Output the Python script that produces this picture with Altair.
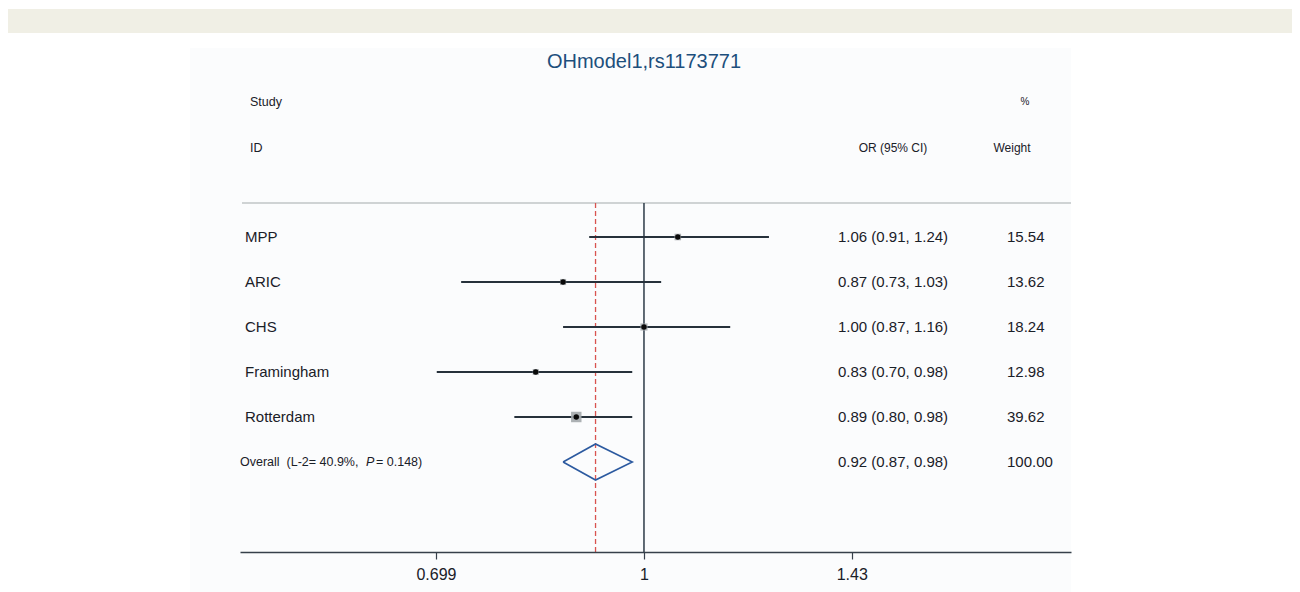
import altair as alt
import pandas as pd

# ---------------- data ----------------
studies = ["MPP", "ARIC", "CHS", "Framingham", "Rotterdam"]
or_est = [1.06, 0.87, 1.00, 0.83, 0.89]
ci_lo = [0.91, 0.73, 0.87, 0.70, 0.80]
ci_hi = [1.24, 1.03, 1.16, 0.98, 0.98]
weights = [15.54, 13.62, 18.24, 12.98, 39.62]

overall_est = 0.92
overall_lo = 0.87
overall_hi = 0.98
overall_weight = 100.00
het_text_a = "Overall\u00a0\u00a0(L-2= 40.9%,\u00a0"
het_text_p = "P"
het_text_b = "\u00a0= 0.148)"

tick_values = [0.699, 1, 1.43]
null_value = [1.0]
title_text = "OHmodel1,rs1173771"

# ---------------- tables ----------------
df = pd.DataFrame({
    "study": studies, "est": or_est, "lo": ci_lo, "hi": ci_hi, "w": weights,
    "row": list(range(len(studies))),
})
df["ci_text"] = [f"{e:.2f} ({l:.2f}, {h:.2f})" for e, l, h in zip(or_est, ci_lo, ci_hi)]
df["w_text"] = [f"{w:.2f}" for w in weights]

orow = len(studies)
ov = pd.DataFrame({
    "est": [overall_est], "lo": [overall_lo], "hi": [overall_hi], "row": [orow],
    "ci_text": [f"{overall_est:.2f} ({overall_lo:.2f}, {overall_hi:.2f})"],
    "w_text": [f"{overall_weight:.2f}"],
})
dia = pd.DataFrame({
    "x": [overall_lo, overall_est, overall_hi, overall_est, overall_lo],
    "y": [orow, orow - 0.4, orow, orow + 0.4, orow],
    "o": [0, 1, 2, 3, 4],
})
nulldf = pd.DataFrame({"x": null_value})
one = alt.Data(values=[{"a": 1}])

# ---------------- styling ----------------
F = "Liberation Sans"
TC = "#1a2028"
LINE = "#26313b"

xs = alt.Scale(type="log", domain=[0.4989, 2.0855], range=[232, 1063], nice=False)
ys = alt.Scale(domain=[-3, 7], range=[94, 544], nice=False, zero=False)
ax = alt.Axis(values=tick_values, format="~g", title=None, grid=False,
              domainColor="#36404a", domainWidth=1.5, tickColor="#36404a",
              tickWidth=1.2, tickSize=7, labelFontSize=16, labelFont=F,
              labelColor=TC, labelPadding=7, labelFlush=False, zindex=2)


def X(f):
    return alt.X(f"{f}:Q", scale=xs, axis=ax)


def Y(f):
    return alt.Y(f"{f}:Q", scale=ys, axis=None)


# background pieces
band = alt.Chart(one).mark_rect(color="#f0efe5").encode(
    x=alt.value(0), x2=alt.value(1284), y=alt.value(1), y2=alt.value(25))
panel = alt.Chart(one).mark_rect(color="#fbfcfd").encode(
    x=alt.value(182), x2=alt.value(1063), y=alt.value(40), y2=alt.value(584))

title = alt.Chart(one).mark_text(fontSize=20, font=F, color="#1d4f7c",
                                 baseline="middle", align="center").encode(
    x=alt.value(636), y=alt.value(54), text=alt.value(title_text))

hdr = []
for txt, xx, yy, al, fs in [("Study", 242, 94, "left", 12.5), ("ID", 242, 140, "left", 12.5),
                            ("%", 1017, 94, "center", 10),
                            ("OR (95% CI)", 885, 140, "center", 12),
                            ("Weight", 1004, 140, "center", 12)]:
    hdr.append(alt.Chart(one).mark_text(fontSize=fs, font=F, color=TC, align=al,
                                        baseline="middle").encode(
        x=alt.value(xx), y=alt.value(yy), text=alt.value(txt)))

sep = alt.Chart(one).mark_rule(color="#cfd3d4", strokeWidth=2).encode(
    x=alt.value(234), x2=alt.value(1063), y=alt.value(195))

ref = alt.Chart(nulldf).mark_rule(color="#2d3a47", strokeWidth=1.5).encode(
    x=X("x"), y=alt.value(195), y2=alt.value(544))

dash = alt.Chart(ov).mark_rule(color="#d9534f", strokeWidth=1.3, strokeDash=[5, 3]).encode(
    x=X("est"), y=alt.value(195), y2=alt.value(544))

ci = alt.Chart(df).mark_rule(color=LINE, strokeWidth=2).encode(
    x=X("lo"), x2="hi", y=Y("row"))

boxes = alt.Chart(df).mark_square(filled=True, color="#a3a8ac", opacity=0.9).encode(
    x=X("est"), y=Y("row"),
    size=alt.Size("w:Q", scale=alt.Scale(domain=[0, 40], range=[0, 110]), legend=None))

dots = alt.Chart(df).mark_point(shape="circle", filled=True, color="#0a0a0a",
                                size=30, opacity=1).encode(x=X("est"), y=Y("row"))

diamond = alt.Chart(dia).mark_line(color="#2c5aa0", strokeWidth=1.6).encode(
    x=X("x"), y=Y("y"), order="o:O")

lab = alt.Chart(df).mark_text(align="left", baseline="middle", fontSize=15, font=F,
                              color=TC).encode(x=alt.value(237), y=Y("row"), text="study:N")
citxt = alt.Chart(df).mark_text(align="left", baseline="middle", fontSize=15, font=F,
                                color=TC).encode(x=alt.value(830), y=Y("row"), text="ci_text:N")
wtxt = alt.Chart(df).mark_text(align="left", baseline="middle", fontSize=15, font=F,
                               color=TC).encode(x=alt.value(999), y=Y("row"), text="w_text:N")
ocitxt = alt.Chart(ov).mark_text(align="left", baseline="middle", fontSize=15, font=F,
                                 color=TC).encode(x=alt.value(830), y=Y("row"), text="ci_text:N")
owtxt = alt.Chart(ov).mark_text(align="left", baseline="middle", fontSize=15, font=F,
                                color=TC).encode(x=alt.value(999), y=Y("row"), text="w_text:N")

olab_a = alt.Chart(ov).mark_text(align="left", baseline="middle", fontSize=12.5, font=F,
                                 color=TC).encode(x=alt.value(232), y=Y("row"),
                                                  text=alt.value(het_text_a))
olab_p = alt.Chart(ov).mark_text(align="left", baseline="middle", fontSize=12.5, font=F,
                                 fontStyle="italic", color=TC).encode(
    x=alt.value(358), y=Y("row"), text=alt.value(het_text_p))
olab_b = alt.Chart(ov).mark_text(align="left", baseline="middle", fontSize=12.5, font=F,
                                 color=TC).encode(x=alt.value(368), y=Y("row"),
                                                  text=alt.value(het_text_b))

chart = alt.layer(
    band, panel, title, *hdr, sep, dash, ref, ci, boxes, dots, diamond,
    lab, citxt, wtxt, ocitxt, owtxt, olab_a, olab_p, olab_b,
).properties(
    width=1284, height=544,
    padding={"left": 0, "top": 0, "right": 0, "bottom": 40},
    autosize=alt.AutoSizeParams(type="none"),
).configure_view(stroke=None)

chart.save("out.html", embed_options={"renderer": "svg", "actions": False})
